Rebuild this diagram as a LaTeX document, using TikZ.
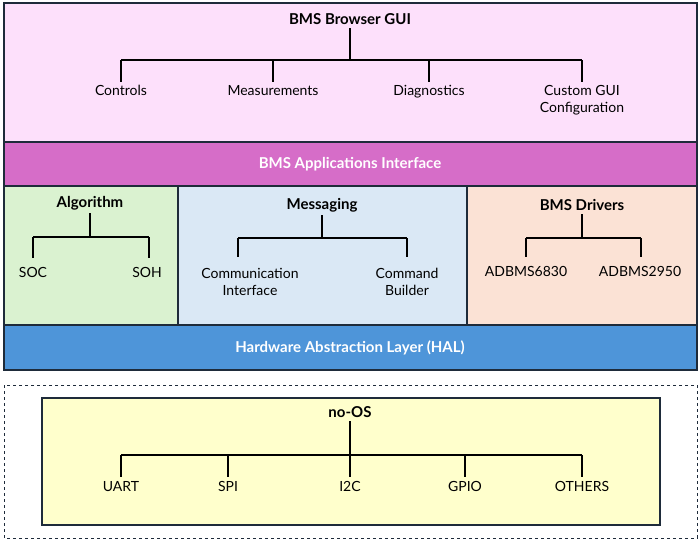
\documentclass[tikz,border=0pt]{standalone}
\usepackage{fontspec}
\setmainfont{Lato}
\definecolor{bd}{HTML}{1E2B3A}
\definecolor{pk}{HTML}{FDE0FB}
\definecolor{mg}{HTML}{D66DC8}
\definecolor{gr}{HTML}{DAF2D0}
\definecolor{bl}{HTML}{DAE8F5}
\definecolor{og}{HTML}{FBE2D5}
\definecolor{hal}{HTML}{4E95D9}
\definecolor{yl}{HTML}{FFFFCC}
\begin{document}
\begin{tikzpicture}[x=1pt,y=-1pt,
 box/.style={draw=bd,line width=1.6pt},
 tl/.style={font=\bfseries\fontsize{15}{17}\selectfont},
 wt/.style={font=\bfseries\fontsize{15}{17}\selectfont,text=white},
 lb/.style={font=\fontsize{14}{21}\selectfont,align=center,anchor=north},
 tr/.style={line width=1.6pt,black}]
\useasboundingbox (0,0) rectangle (700,541);
\fill[white] (0,0) rectangle (700,541);
\draw[box,fill=pk] (4,3) rectangle (697,142);
\draw[box,fill=mg] (4,142) rectangle (697,186);
\draw[box,fill=gr] (4,186) rectangle (178,325);
\draw[box,fill=bl] (178,186) rectangle (467,325);
\draw[box,fill=og] (467,186) rectangle (697,325);
\draw[box,fill=hal] (4,325) rectangle (697,370);
\draw[bd,line width=1pt,dashed] (4,385) rectangle (697,538);
\draw[box,fill=yl] (42,398) rectangle (660,525);
\node[wt] (api) at (350,164) {BMS Applications Interface};
\node[wt] (hal) at (350,348) {Hardware Abstraction Layer (HAL)};
% GUI
\node[tl] (gui) at (350,19) {BMS Browser GUI};
\coordinate (g0) at (350,60);
\draw[tr] (gui.south) -- (g0);
\foreach \n/\x/\t in {c/121/Controls,m/273/Measurements,d/429/Diagnostics,g/582/{Custom GUI\\[-4pt]Configuration}}{
 \node[lb] (\n) at (\x,82) {\t};
 \draw[tr] (121,60) -- (582,60);
 \draw[tr] (\x,60) -- (\n.north);}
% Algorithm
\node[tl] (alg) at (90,203) {Algorithm};
\draw[tr] (alg.south) -- (90,237);
\draw[tr] (33,237) -- (149,237);
\node[lb] (soc) at (33,264) {SOC};
\node[lb] (soh) at (147,264) {SOH};
\draw[tr] (33,237) -- (33,258);
\draw[tr] (149,237) -- (149,258);
% Messaging
\node[tl] (msg) at (322,205) {Messaging};
\draw[tr] (msg.south) -- (322,238);
\draw[tr] (238,238) -- (407,238);
\node[lb] (ci) at (250,265) {Communication\\[-4pt]Interface};
\node[lb] (cb) at (407,265) {Command\\[-4pt]Builder};
\draw[tr] (238,238) -- (238,257);
\draw[tr] (407,238) -- (407,257);
% Drivers
\node[tl] (drv) at (582,205) {BMS Drivers};
\draw[tr] (drv.south) -- (582,238);
\draw[tr] (526,238) -- (641,238);
\node[lb] (a1) at (526,263) {ADBMS6830};
\node[lb] (a2) at (640,263) {ADBMS2950};
\draw[tr] (526,238) -- (526,257);
\draw[tr] (641,238) -- (641,257);
% no-OS
\node[tl] (nos) at (350,412) {no-OS};
\draw[tr] (nos.south) -- (350,455);
\draw[tr] (121,455) -- (582,455);
\foreach \n/\x/\t in {u/121/UART,s/228/SPI,i/350/I2C,p/465/GPIO,o/582/OTHERS}{
 \node[lb] (\n) at (\x,478) {\t};
 \draw[tr] (\x,455) -- (\x,477);}
\end{tikzpicture}
\end{document}
